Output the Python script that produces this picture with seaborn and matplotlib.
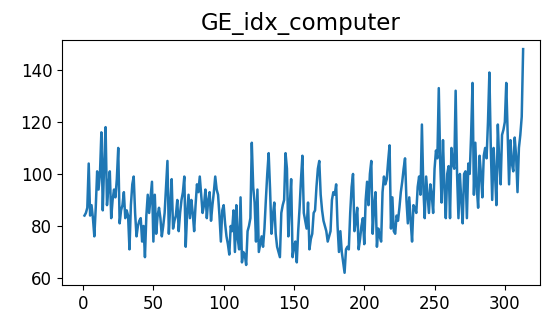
import numpy as np
import pandas as pd
import matplotlib
matplotlib.use("Agg")
import matplotlib.pyplot as plt
import seaborn as sns

title = "GE_idx_computer"

idx_values = [
    84, 85, 87, 104, 84, 88, 83, 76, 87, 101,
    94, 100, 116, 86, 104, 118, 88, 95, 101, 83,
    90, 94, 91, 98, 110, 81, 86, 88, 93, 83,
    86, 84, 71, 88, 96, 99, 85, 76, 80, 82,
    83, 74, 80, 68, 84, 92, 85, 91, 97, 74,
    92, 77, 84, 87, 83, 76, 80, 85, 95, 105,
    77, 88, 98, 79, 82, 84, 90, 78, 85, 90,
    93, 99, 72, 85, 92, 83, 90, 85, 78, 88,
    96, 93, 99, 92, 85, 88, 94, 83, 90, 93,
    82, 88, 93, 99, 94, 92, 84, 74, 86, 88,
    81, 76, 73, 69, 80, 78, 86, 70, 88, 75,
    71, 91, 66, 70, 69, 65, 78, 80, 83, 112,
    95, 89, 74, 94, 70, 73, 76, 72, 79, 90,
    100, 108, 94, 77, 84, 89, 77, 72, 70, 68,
    85, 88, 90, 108, 102, 76, 88, 98, 68, 72,
    74, 66, 78, 87, 98, 107, 85, 82, 79, 89,
    71, 75, 77, 85, 86, 95, 102, 105, 92, 86,
    82, 80, 78, 74, 76, 78, 90, 93, 92, 96,
    80, 70, 78, 70, 66, 62, 71, 72, 71, 85,
    95, 100, 78, 82, 87, 71, 75, 80, 83, 73,
    90, 97, 88, 100, 105, 77, 88, 93, 72, 79,
    76, 74, 93, 99, 96, 98, 105, 111, 79, 91,
    78, 77, 84, 82, 87, 93, 97, 102, 106, 90,
    81, 91, 82, 74, 88, 87, 85, 95, 99, 92,
    119, 95, 83, 99, 92, 85, 96, 92, 85, 102,
    109, 106, 133, 105, 89, 113, 95, 83, 100, 103,
    83, 110, 104, 102, 132, 100, 83, 100, 90, 81,
    100, 101, 83, 104, 100, 115, 135, 92, 112, 95,
    87, 107, 100, 91, 107, 110, 106, 120, 139, 110,
    90, 110, 100, 88, 119, 105, 96, 115, 117, 120,
    135, 115, 96, 113, 104, 101, 114, 107, 93, 110,
    115, 122, 148,
]
periods = list(range(1, len(idx_values) + 1))

df = pd.DataFrame({"period": periods, "value": idx_values})

fig = plt.figure(figsize=(5.45, 3.25), dpi=100)
ax = fig.add_axes([62 / 545, 1 - 285 / 325, (540 - 62) / 545, (285 - 40) / 325])
sns.lineplot(data=df, x="period", y="value", ax=ax, color="#1f77b4", linewidth=1.8)

ax.set_xlim(-15, 325)
ax.set_ylim(57.3, 151.5)
ax.set_xticks([0, 50, 100, 150, 200, 250, 300])
ax.set_yticks([60, 80, 100, 120, 140])
ax.tick_params(labelsize=12)
ax.set_xlabel("")
ax.set_ylabel("")
ax.set_title(title, fontsize=16.5, pad=7)

fig.savefig("out.png", dpi=100)
